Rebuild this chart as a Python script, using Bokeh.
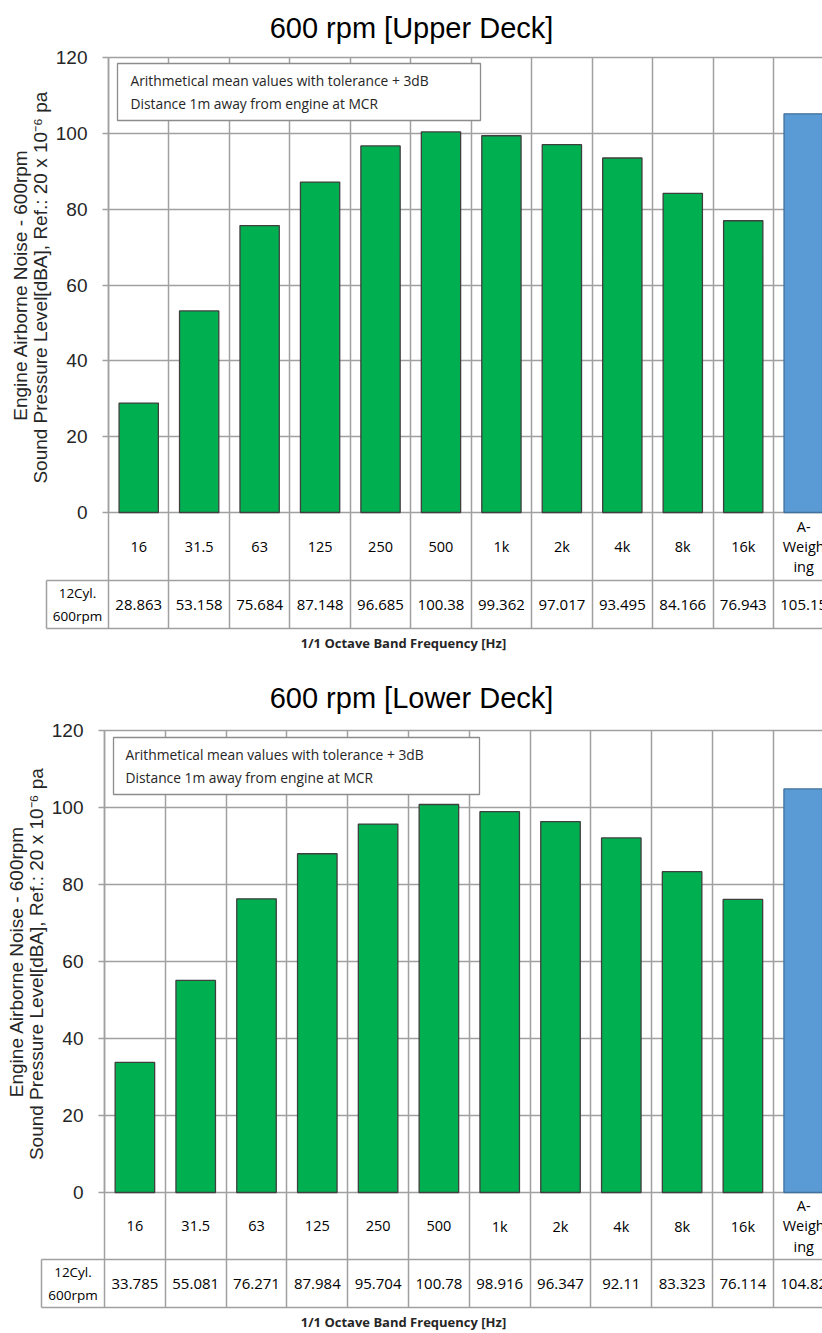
from bokeh.plotting import figure
from bokeh.models import Range1d, LinearAxis, FixedTicker, Grid, ColumnDataSource
from bokeh.layouts import column
from bokeh.embed import file_html
from bokeh.resources import INLINE
from bokeh.core.properties import value

# ---------------- data ----------------
categories = ["16", "31.5", "63", "125", "250", "500", "1k", "2k", "4k", "8k", "16k", "A-\nWeigh\ning"]
upper_values = [28.863, 53.158, 75.684, 87.148, 96.685, 100.38, 99.362, 97.017, 93.495, 84.166, 76.943, 105.15]
lower_values = [33.785, 55.081, 76.271, 87.984, 95.704, 100.78, 98.916, 96.347, 92.11, 83.323, 76.114, 104.82]
y_ticks = [0, 20, 40, 60, 80, 100, 120]
row_header = "12Cyl.\n600rpm"
titles = ["600 rpm [Upper Deck]", "600 rpm [Lower Deck]"]
note_text = "Arithmetical mean values with tolerance + 3dB\nDistance 1m away from engine at MCR"
x_title = "1/1 Octave Band Frequency [Hz]"
y_title = "Engine Airborne Noise - 600rpm\nSound Pressure Level[dBA],  Ref.: 20 x 10\u207b\u2076 pa"

# ---------------- style / layout ----------------
GREEN = "#00B050"
BLUE = "#5B9BD5"
BAR_LINE = "#3F3F3F"
BLUE_LINE = "#41719C"
GRID = "#A0A0A0"
TXT = "#262626"
FIG_W = 822

LAYOUTS = [
    dict(fig_top=0, fig_h=672, frame_top=50, title_c=27, y120=57, y0=512, row1=580, row2=628,
         plot_left=108, col_w=60.45, hdr_left=46, note=(117, 63, 480, 120), note_x=130),
    dict(fig_top=672, fig_h=661, frame_top=718, title_c=699, y120=730, y0=1192, row1=1259, row2=1307,
         plot_left=104, col_w=60.8, hdr_left=41, note=(113, 737, 479, 794), note_x=125),
]


def chart(title_text, vals, L):
    s = (L["y0"] - L["y120"]) / 120.0

    def yv(Y):
        return (L["y0"] - Y) / s

    def xv(X):
        return -0.5 + (X - L["plot_left"]) / L["col_w"]

    frame_bot = L["fig_top"] + L["fig_h"]
    n = len(categories)

    p = figure(width=FIG_W, height=L["fig_h"], title=title_text,
               x_range=Range1d(xv(0), xv(FIG_W)),
               y_range=Range1d(yv(frame_bot), yv(L["frame_top"])),
               x_axis_type=None, y_axis_type=None,
               output_backend="svg", toolbar_location=None,
               min_border=0, min_border_top=L["frame_top"] - L["fig_top"],
               outline_line_color=None,
               background_fill_color="white", border_fill_color="white")
    p.title.align = "center"
    p.title.text_font = "Liberation Sans"
    p.title.text_font_size = "29px"
    p.title.text_font_style = "normal"
    p.title.text_color = "black"
    p.title.standoff = max(0, L["frame_top"] - 10 - L["title_c"])

    row1_v = yv(L["row1"])
    row2_v = yv(L["row2"])
    hdr_v = xv(L["hdr_left"])
    right_v = xv(FIG_W) + 1

    # grid lines (horizontal value grid, vertical cell borders)
    p.add_layout(Grid(dimension=1, ticker=FixedTicker(ticks=y_ticks),
                      cross_bounds=(-0.5, right_v),
                      grid_line_color=GRID, grid_line_width=1.5))
    p.add_layout(Grid(dimension=0, ticker=FixedTicker(ticks=[i - 0.5 for i in range(n + 1)]),
                      cross_bounds=(row2_v, 120),
                      grid_line_color=GRID, grid_line_width=1.5))
    # table row borders
    p.segment(x0=[hdr_v, hdr_v, hdr_v], y0=[row1_v, row2_v, row1_v],
              x1=[right_v, right_v, hdr_v], y1=[row1_v, row2_v, row2_v],
              line_color=GRID, line_width=1.5)

    src = ColumnDataSource(dict(
        x=list(range(n)), top=vals, cat=categories,
        label=[f"{v:g}" for v in vals],
        fill=[BLUE if c.startswith("A-") else GREEN for c in categories],
        line=[BLUE_LINE if c.startswith("A-") else BAR_LINE for c in categories],
    ))
    p.vbar(x="x", top="top", bottom=0, width=0.65, fill_color="fill",
           line_color="line", line_width=1.3, source=src)

    # data table rows
    p.text(x="x", y=yv((L["y0"] + L["row1"]) / 2), text="cat", source=src,
           text_align="center", text_baseline="middle", text_font=value("Open Sans"),
           text_font_size="14.5px", text_line_height=1.06, text_color="black")
    p.text(x="x", y=yv((L["row1"] + L["row2"]) / 2), text="label", source=src,
           text_align="center", text_baseline="middle", text_font=value("Open Sans"),
           text_font_size="15px", text_color="black")
    p.text(x=[xv((L["hdr_left"] + L["plot_left"]) / 2)], y=[yv((L["row1"] + L["row2"]) / 2)],
           text=[row_header], text_align="center", text_baseline="middle",
           text_font=value("Open Sans"), text_font_size="13.5px", text_line_height=1.3,
           text_color="black")

    # note box
    nl, nt, nr, nb = L["note"]
    p.quad(left=[xv(nl)], right=[xv(nr)], top=[yv(nt)], bottom=[yv(nb)],
           fill_color="white", line_color="#8C8C8C", line_width=1.3)
    p.text(x=[xv(L["note_x"])], y=[yv((nt + nb) / 2)], text=[note_text],
           text_align="left", text_baseline="middle", text_font=value("Open Sans"),
           text_font_size="13.8px", text_line_height=1.17, text_color=TXT)

    # y axis at the left edge of the plot area
    yax = LinearAxis(fixed_location=-0.5, ticker=FixedTicker(ticks=y_ticks), bounds=(0, 120),
                     axis_label=y_title,
                     axis_line_color=GRID, axis_line_width=1.5,
                     major_tick_line_color=GRID, major_tick_line_width=1.5,
                     major_tick_out=6, major_tick_in=0, minor_tick_line_color=None,
                     major_label_standoff=15,
                     major_label_text_font="Liberation Sans", major_label_text_font_size="19px",
                     major_label_text_color=TXT,
                     axis_label_text_font="Liberation Sans", axis_label_text_font_size="19px",
                     axis_label_text_font_style="normal", axis_label_text_color=TXT,
                     axis_label_standoff=2, axis_label_text_line_height=0.92)
    p.add_layout(yax, "left")

    # x axis title below the table
    c = xv(403)
    xax = LinearAxis(fixed_location=row2_v, ticker=FixedTicker(ticks=[]),
                     bounds=(hdr_v, 2 * c - hdr_v), axis_label=x_title,
                     axis_line_color=None, major_tick_line_color=None, minor_tick_line_color=None,
                     major_label_text_font_size="0px",
                     axis_label_text_font="Open Sans", axis_label_text_font_style="bold",
                     axis_label_text_font_size="13px", axis_label_text_color=TXT,
                     axis_label_standoff=5)
    p.add_layout(xax, "below")
    return p


p1 = chart(titles[0], upper_values, LAYOUTS[0])
p2 = chart(titles[1], lower_values, LAYOUTS[1])
layout = column(p1, p2, spacing=0)
open("out.html", "w").write(file_html(layout, INLINE))
